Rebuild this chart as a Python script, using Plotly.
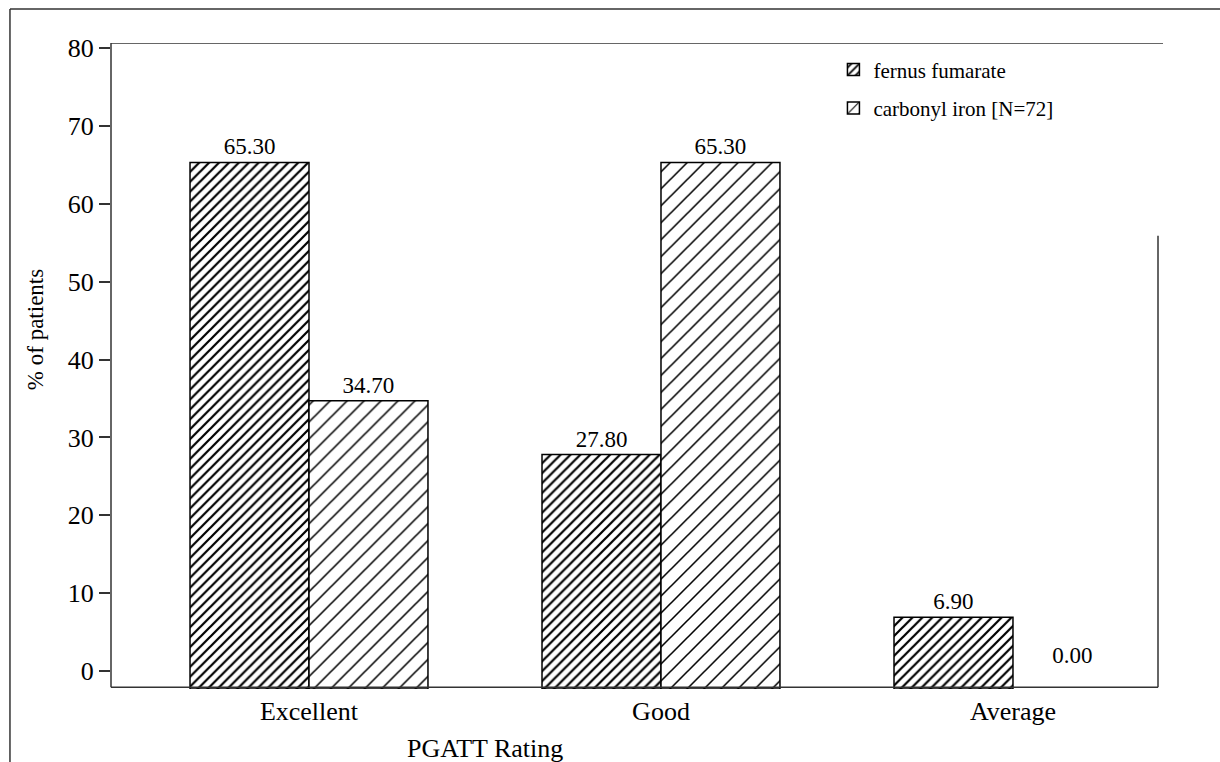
import plotly.graph_objects as go

# PGATT rating distribution, % of patients per treatment arm
ratings = ["Excellent", "Good", "Average"]
fernus_fumarate = [65.30, 27.80, 6.90]
carbonyl_iron = [34.70, 65.30, 0.00]
series_names = ["fernus fumarate", "carbonyl iron [N=72]"]
y_ticks = [0, 10, 20, 30, 40, 50, 60, 70, 80]

FONT = "Liberation Serif"
FLOOR = -2.3          # bars hang slightly below the zero line
AXIS_BOTTOM = -2.06   # where the bottom axis line sits
Y_TOP = 80.64


def bar_trace(name, values, pat_size, solidity, group):
    bases = [FLOOR if v > 0 else 0 for v in values]
    return go.Bar(
        name=name,
        x=ratings,
        y=[v - b for v, b in zip(values, bases)],
        base=bases,
        text=[f"{v:.2f}" for v in values],
        textposition="outside",
        textfont=dict(family=FONT, size=23, color="black"),
        cliponaxis=False,
        legendgroup=group,
        marker=dict(
            color="white",
            line=dict(color="black", width=[1.5 if v > 0 else 0 for v in values]),
            pattern=dict(shape="/", size=pat_size, solidity=solidity,
                         fgcolor="black", bgcolor="white", fillmode="replace"),
        ),
        hoverinfo="skip",
    )


fig = go.Figure()
fig.add_trace(bar_trace(series_names[0], fernus_fumarate, 7, 0.32, "a"))
fig.add_trace(bar_trace(series_names[1], carbonyl_iron, 12, 0.13, "b"))

line = dict(color="#333333", width=1.5)
shapes = [
    # outer frame (top and left edges)
    dict(type="line", xref="paper", yref="paper", x0=-0.0965, x1=1.07,
         y0=1.0527, y1=1.0527, line=line),
    dict(type="line", xref="paper", yref="paper", x0=-0.0965, x1=-0.0965,
         y0=-0.15, y1=1.0527, line=line),
    # plot frame
    dict(type="line", xref="paper", yref="y", x0=0, x1=0,
         y0=AXIS_BOTTOM, y1=Y_TOP, line=line),
    dict(type="line", xref="paper", yref="y", x0=0, x1=1.0048,
         y0=Y_TOP, y1=Y_TOP, line=line),
    dict(type="line", xref="paper", yref="y", x0=0, x1=1,
         y0=AXIS_BOTTOM, y1=AXIS_BOTTOM, line=line),
    dict(type="line", xref="paper", yref="y", x0=1, x1=1,
         y0=AXIS_BOTTOM, y1=55.9, line=line),
]

fig.update_layout(
    width=1220,
    height=762,
    margin=dict(l=111, r=62, t=43, b=73, pad=0),
    paper_bgcolor="white",
    plot_bgcolor="white",
    barmode="group",
    bargap=0.324,
    bargroupgap=0,
    shapes=shapes,
    showlegend=True,
    legend=dict(
        x=0.69, y=0.99, xanchor="left", yanchor="top",
        font=dict(family=FONT, size=21, color="black"),
        bgcolor="rgba(0,0,0,0)",
        tracegroupgap=8,
        itemwidth=30,
    ),
    xaxis=dict(
        type="category",
        range=[-0.5625, 2.412],
        showgrid=False,
        showline=False,
        zeroline=False,
        ticks="",
        tickfont=dict(family=FONT, size=26, color="black"),
        ticklabelstandoff=4,
    ),
    yaxis=dict(
        range=[FLOOR, Y_TOP],
        tickvals=y_ticks,
        ticktext=[str(t) for t in y_ticks],
        showgrid=False,
        showline=False,
        zeroline=False,
        ticks="outside",
        ticklen=11,
        tickwidth=1.5,
        tickcolor="#333333",
        tickfont=dict(family=FONT, size=26, color="black"),
    ),
    annotations=[
        dict(text="PGATT Rating", xref="paper", yref="paper",
             x=0.357, y=-0.092, xanchor="center", yanchor="middle",
             showarrow=False, font=dict(family=FONT, size=26, color="black")),
        dict(text="% of patients", xref="paper", yref="paper",
             x=-0.0726, y=0.557, xanchor="center", yanchor="middle",
             textangle=-90, showarrow=False,
             font=dict(family=FONT, size=23, color="black")),
    ],
)

fig.write_html("out.html")
